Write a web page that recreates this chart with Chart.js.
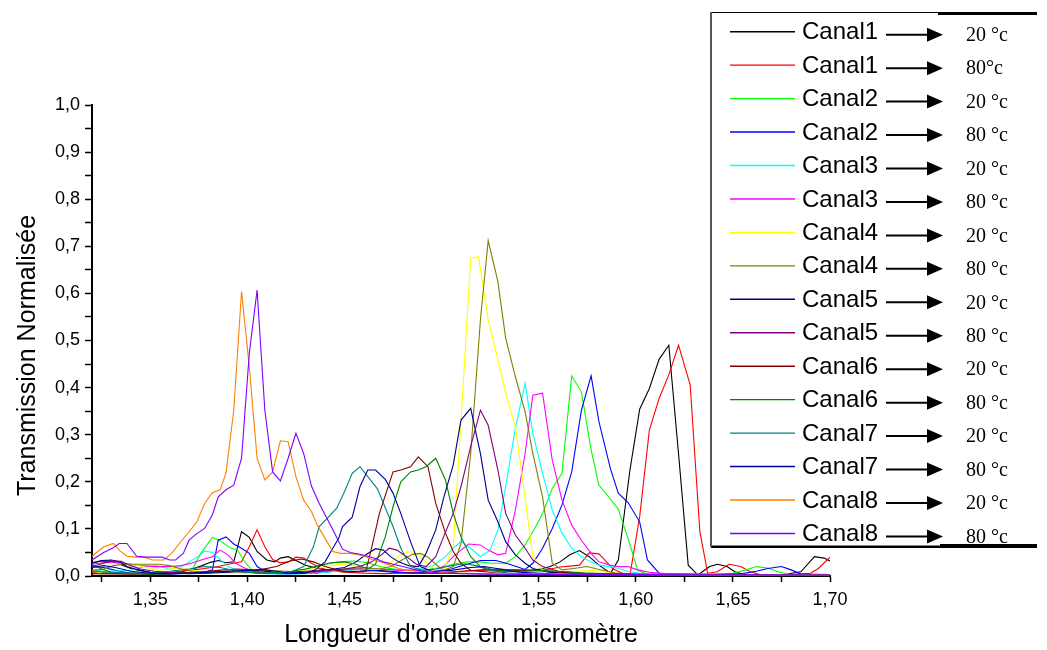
<!DOCTYPE html>
<html>
<head>
<meta charset="utf-8">
<title>Transmission normalisée des canaux</title>
<script src="https://cdn.jsdelivr.net/npm/chart.js@4.4.1/dist/chart.umd.min.js"></script>
<style>
  html, body { margin: 0; padding: 0; background: #fff; }
  #wrap { position: relative; width: 1047px; height: 650px; }
</style>
</head>
<body>
<div id="wrap"><canvas id="spectre" width="1047" height="650"></canvas></div>
<script>
// Normalised transmission spectra, [wavelength (µm), transmission] pairs
const canal1_20 = [[1.320,0.027],[1.325,0.032],[1.330,0.031],[1.335,0.024],[1.340,0.016],[1.345,0.011],[1.350,0.008],[1.356,0.006],[1.361,0.006],[1.366,0.009],[1.371,0.014],[1.376,0.021],[1.381,0.029],[1.385,0.033],[1.389,0.028],[1.393,0.030],[1.397,0.094],[1.401,0.082],[1.405,0.052],[1.410,0.034],[1.414,0.030],[1.417,0.038],[1.421,0.041],[1.425,0.033],[1.430,0.023],[1.436,0.016],[1.442,0.012],[1.450,0.009],[1.458,0.010],[1.466,0.012],[1.474,0.010],[1.482,0.007],[1.490,0.006],[1.498,0.006],[1.506,0.008],[1.514,0.011],[1.522,0.013],[1.530,0.014],[1.538,0.012],[1.546,0.012],[1.551,0.015],[1.556,0.020],[1.561,0.030],[1.566,0.045],[1.571,0.054],[1.576,0.041],[1.581,0.023],[1.587,0.006],[1.591,0.034],[1.597,0.225],[1.602,0.354],[1.607,0.398],[1.612,0.460],[1.617,0.490],[1.622,0.260],[1.627,0.023],[1.632,0.002],[1.638,0.020],[1.642,0.025],[1.647,0.020],[1.651,0.009],[1.656,0.003],[1.665,0.002],[1.675,0.002],[1.685,0.009],[1.692,0.041],[1.697,0.038],[1.700,0.032]];
const canal1_80 = [[1.320,0.008],[1.330,0.006],[1.340,0.005],[1.350,0.006],[1.360,0.008],[1.370,0.012],[1.378,0.016],[1.385,0.020],[1.389,0.024],[1.393,0.027],[1.397,0.030],[1.401,0.062],[1.405,0.098],[1.409,0.062],[1.413,0.035],[1.417,0.028],[1.421,0.030],[1.425,0.040],[1.429,0.038],[1.433,0.027],[1.437,0.018],[1.442,0.012],[1.450,0.008],[1.460,0.006],[1.470,0.005],[1.480,0.006],[1.490,0.007],[1.500,0.008],[1.510,0.010],[1.520,0.012],[1.530,0.014],[1.540,0.013],[1.550,0.012],[1.556,0.015],[1.561,0.019],[1.566,0.021],[1.571,0.023],[1.576,0.049],[1.581,0.047],[1.584,0.034],[1.588,0.016],[1.593,0.006],[1.597,0.002],[1.602,0.126],[1.607,0.310],[1.612,0.377],[1.617,0.427],[1.622,0.490],[1.628,0.406],[1.633,0.094],[1.637,0.006],[1.642,0.009],[1.648,0.025],[1.654,0.020],[1.659,0.009],[1.664,0.003],[1.675,0.002],[1.690,0.006],[1.694,0.016],[1.700,0.040]];
const canal2_20 = [[1.320,0.010],[1.330,0.008],[1.340,0.006],[1.350,0.005],[1.360,0.005],[1.366,0.006],[1.371,0.009],[1.376,0.048],[1.382,0.082],[1.386,0.075],[1.391,0.060],[1.395,0.055],[1.398,0.034],[1.403,0.009],[1.410,0.005],[1.420,0.008],[1.430,0.015],[1.440,0.025],[1.447,0.030],[1.455,0.032],[1.462,0.028],[1.470,0.018],[1.480,0.012],[1.490,0.012],[1.500,0.018],[1.507,0.026],[1.513,0.030],[1.520,0.030],[1.526,0.027],[1.533,0.027],[1.538,0.041],[1.543,0.066],[1.548,0.101],[1.552,0.133],[1.557,0.186],[1.562,0.218],[1.567,0.425],[1.572,0.391],[1.577,0.268],[1.581,0.193],[1.587,0.163],[1.591,0.142],[1.596,0.080],[1.601,0.012],[1.606,0.004],[1.620,0.004],[1.640,0.003],[1.650,0.006],[1.656,0.012],[1.662,0.020],[1.668,0.017],[1.674,0.008],[1.680,0.003],[1.700,0.003]];
const canal2_80 = [[1.320,0.020],[1.326,0.018],[1.332,0.012],[1.340,0.006],[1.350,0.004],[1.360,0.004],[1.370,0.006],[1.378,0.008],[1.382,0.013],[1.385,0.076],[1.389,0.083],[1.393,0.068],[1.397,0.059],[1.401,0.048],[1.405,0.020],[1.409,0.010],[1.415,0.005],[1.425,0.005],[1.435,0.006],[1.445,0.010],[1.455,0.014],[1.465,0.012],[1.475,0.008],[1.485,0.006],[1.495,0.008],[1.505,0.015],[1.513,0.025],[1.520,0.033],[1.528,0.033],[1.535,0.025],[1.540,0.018],[1.543,0.014],[1.547,0.027],[1.552,0.059],[1.557,0.101],[1.562,0.151],[1.567,0.221],[1.572,0.352],[1.577,0.425],[1.581,0.328],[1.587,0.227],[1.591,0.176],[1.596,0.156],[1.602,0.115],[1.606,0.034],[1.612,0.006],[1.620,0.003],[1.640,0.003],[1.655,0.005],[1.662,0.010],[1.668,0.016],[1.675,0.020],[1.680,0.013],[1.685,0.004],[1.700,0.003]];
const canal3_20 = [[1.320,0.012],[1.330,0.010],[1.340,0.012],[1.347,0.020],[1.353,0.022],[1.360,0.015],[1.366,0.020],[1.370,0.030],[1.374,0.040],[1.378,0.053],[1.382,0.050],[1.386,0.035],[1.390,0.020],[1.395,0.012],[1.400,0.008],[1.410,0.005],[1.420,0.004],[1.430,0.005],[1.440,0.008],[1.450,0.012],[1.460,0.015],[1.470,0.014],[1.480,0.012],[1.487,0.014],[1.492,0.018],[1.496,0.023],[1.502,0.041],[1.506,0.059],[1.510,0.073],[1.515,0.059],[1.520,0.041],[1.525,0.055],[1.529,0.098],[1.533,0.190],[1.538,0.314],[1.543,0.409],[1.547,0.303],[1.552,0.218],[1.557,0.140],[1.562,0.091],[1.567,0.059],[1.572,0.041],[1.577,0.030],[1.581,0.023],[1.587,0.020],[1.591,0.016],[1.596,0.010],[1.602,0.006],[1.610,0.004],[1.630,0.003],[1.700,0.002]];
const canal3_80 = [[1.320,0.025],[1.326,0.028],[1.332,0.030],[1.338,0.026],[1.345,0.022],[1.352,0.020],[1.360,0.020],[1.366,0.022],[1.372,0.028],[1.377,0.035],[1.382,0.041],[1.386,0.055],[1.390,0.045],[1.394,0.027],[1.398,0.018],[1.403,0.010],[1.410,0.006],[1.420,0.005],[1.430,0.006],[1.440,0.010],[1.450,0.014],[1.460,0.016],[1.470,0.014],[1.480,0.012],[1.490,0.012],[1.497,0.015],[1.501,0.020],[1.506,0.041],[1.510,0.055],[1.514,0.068],[1.520,0.066],[1.524,0.055],[1.529,0.045],[1.533,0.048],[1.538,0.140],[1.543,0.260],[1.547,0.384],[1.552,0.388],[1.557,0.246],[1.562,0.161],[1.567,0.108],[1.572,0.076],[1.577,0.048],[1.581,0.030],[1.587,0.023],[1.591,0.020],[1.596,0.020],[1.601,0.013],[1.607,0.008],[1.615,0.005],[1.640,0.004],[1.660,0.003],[1.700,0.002]];
const canal4_20 = [[1.320,0.005],[1.325,0.008],[1.330,0.027],[1.336,0.025],[1.342,0.024],[1.348,0.018],[1.354,0.012],[1.360,0.015],[1.366,0.018],[1.372,0.012],[1.380,0.008],[1.390,0.006],[1.400,0.005],[1.410,0.006],[1.420,0.008],[1.430,0.012],[1.440,0.020],[1.448,0.025],[1.455,0.022],[1.462,0.015],[1.468,0.014],[1.474,0.030],[1.479,0.045],[1.484,0.052],[1.488,0.045],[1.493,0.025],[1.497,0.015],[1.501,0.013],[1.506,0.060],[1.510,0.330],[1.515,0.675],[1.519,0.678],[1.524,0.544],[1.529,0.459],[1.533,0.388],[1.538,0.317],[1.542,0.197],[1.547,0.041],[1.552,0.013],[1.560,0.006],[1.570,0.010],[1.578,0.012],[1.585,0.008],[1.595,0.004],[1.620,0.003],[1.700,0.002]];
const canal4_80 = [[1.320,0.012],[1.326,0.015],[1.331,0.022],[1.336,0.025],[1.342,0.025],[1.348,0.025],[1.354,0.025],[1.360,0.022],[1.366,0.015],[1.372,0.010],[1.380,0.008],[1.390,0.008],[1.400,0.010],[1.410,0.012],[1.420,0.010],[1.430,0.008],[1.440,0.010],[1.450,0.015],[1.460,0.018],[1.468,0.015],[1.474,0.020],[1.480,0.035],[1.485,0.046],[1.489,0.048],[1.493,0.040],[1.497,0.025],[1.501,0.012],[1.506,0.020],[1.510,0.069],[1.515,0.260],[1.520,0.544],[1.524,0.712],[1.529,0.625],[1.533,0.505],[1.538,0.423],[1.543,0.349],[1.547,0.260],[1.552,0.168],[1.557,0.027],[1.562,0.013],[1.568,0.016],[1.575,0.020],[1.580,0.015],[1.590,0.006],[1.610,0.003],[1.700,0.002]];
const canal5_20 = [[1.320,0.028],[1.325,0.033],[1.330,0.034],[1.334,0.030],[1.338,0.020],[1.343,0.014],[1.350,0.008],[1.360,0.006],[1.370,0.005],[1.380,0.006],[1.390,0.008],[1.400,0.012],[1.410,0.010],[1.420,0.006],[1.430,0.008],[1.440,0.012],[1.450,0.018],[1.456,0.030],[1.461,0.045],[1.466,0.058],[1.470,0.055],[1.474,0.040],[1.478,0.030],[1.483,0.022],[1.488,0.020],[1.492,0.048],[1.497,0.098],[1.501,0.165],[1.506,0.236],[1.510,0.331],[1.515,0.356],[1.520,0.260],[1.524,0.161],[1.529,0.115],[1.533,0.073],[1.538,0.045],[1.543,0.027],[1.547,0.016],[1.555,0.008],[1.570,0.005],[1.600,0.003],[1.700,0.002]];
const canal5_80 = [[1.320,0.020],[1.325,0.026],[1.330,0.032],[1.335,0.031],[1.340,0.022],[1.345,0.015],[1.352,0.010],[1.360,0.008],[1.370,0.006],[1.380,0.008],[1.390,0.010],[1.400,0.008],[1.410,0.006],[1.420,0.008],[1.430,0.010],[1.440,0.012],[1.450,0.015],[1.458,0.020],[1.464,0.030],[1.469,0.045],[1.473,0.059],[1.477,0.055],[1.482,0.041],[1.487,0.025],[1.492,0.020],[1.497,0.041],[1.501,0.083],[1.506,0.133],[1.510,0.190],[1.515,0.275],[1.520,0.352],[1.524,0.320],[1.529,0.225],[1.533,0.133],[1.538,0.087],[1.543,0.059],[1.547,0.034],[1.552,0.020],[1.560,0.010],[1.575,0.005],[1.600,0.003],[1.700,0.002]];
const canal6_20 = [[1.320,0.005],[1.340,0.004],[1.360,0.005],[1.375,0.008],[1.385,0.012],[1.395,0.015],[1.405,0.012],[1.415,0.020],[1.422,0.032],[1.428,0.036],[1.434,0.030],[1.440,0.020],[1.447,0.012],[1.454,0.008],[1.461,0.010],[1.464,0.060],[1.468,0.133],[1.475,0.221],[1.479,0.225],[1.484,0.232],[1.488,0.253],[1.493,0.232],[1.497,0.154],[1.502,0.091],[1.506,0.052],[1.510,0.027],[1.515,0.012],[1.525,0.008],[1.540,0.010],[1.550,0.012],[1.560,0.008],[1.580,0.004],[1.700,0.002]];
const canal6_80 = [[1.320,0.024],[1.325,0.015],[1.330,0.008],[1.340,0.005],[1.350,0.004],[1.360,0.005],[1.370,0.006],[1.380,0.008],[1.390,0.010],[1.400,0.008],[1.410,0.006],[1.420,0.008],[1.430,0.015],[1.437,0.022],[1.443,0.028],[1.450,0.030],[1.456,0.025],[1.462,0.015],[1.466,0.025],[1.471,0.083],[1.475,0.147],[1.479,0.200],[1.484,0.221],[1.488,0.225],[1.492,0.232],[1.497,0.250],[1.502,0.204],[1.506,0.133],[1.510,0.083],[1.515,0.041],[1.520,0.020],[1.528,0.012],[1.540,0.010],[1.550,0.012],[1.560,0.010],[1.575,0.006],[1.600,0.003],[1.700,0.002]];
const canal7_20 = [[1.320,0.010],[1.330,0.008],[1.340,0.006],[1.350,0.006],[1.360,0.010],[1.370,0.015],[1.378,0.020],[1.386,0.018],[1.395,0.010],[1.405,0.006],[1.415,0.006],[1.422,0.008],[1.429,0.020],[1.434,0.062],[1.437,0.105],[1.441,0.122],[1.446,0.144],[1.450,0.179],[1.454,0.218],[1.458,0.232],[1.462,0.211],[1.467,0.185],[1.475,0.105],[1.479,0.059],[1.484,0.020],[1.490,0.012],[1.497,0.015],[1.505,0.022],[1.512,0.026],[1.518,0.022],[1.525,0.012],[1.535,0.006],[1.550,0.004],[1.580,0.003],[1.700,0.002]];
const canal7_80 = [[1.320,0.018],[1.326,0.022],[1.332,0.018],[1.340,0.010],[1.350,0.006],[1.360,0.005],[1.370,0.006],[1.380,0.008],[1.390,0.010],[1.400,0.012],[1.408,0.014],[1.415,0.010],[1.422,0.006],[1.430,0.006],[1.435,0.013],[1.440,0.030],[1.443,0.052],[1.447,0.080],[1.449,0.105],[1.454,0.125],[1.458,0.190],[1.462,0.225],[1.466,0.225],[1.471,0.205],[1.475,0.176],[1.479,0.133],[1.484,0.073],[1.489,0.020],[1.495,0.010],[1.505,0.012],[1.515,0.018],[1.522,0.020],[1.530,0.015],[1.540,0.008],[1.560,0.004],[1.600,0.003],[1.700,0.002]];
const canal8_20 = [[1.320,0.042],[1.326,0.062],[1.331,0.069],[1.334,0.055],[1.338,0.042],[1.343,0.040],[1.347,0.040],[1.351,0.034],[1.357,0.034],[1.361,0.048],[1.365,0.069],[1.370,0.094],[1.374,0.115],[1.378,0.154],[1.382,0.177],[1.386,0.183],[1.389,0.219],[1.393,0.352],[1.397,0.604],[1.401,0.444],[1.405,0.250],[1.409,0.204],[1.413,0.221],[1.417,0.287],[1.421,0.285],[1.425,0.211],[1.429,0.161],[1.433,0.137],[1.436,0.108],[1.441,0.073],[1.444,0.052],[1.448,0.048],[1.453,0.048],[1.457,0.045],[1.461,0.041],[1.465,0.034],[1.470,0.028],[1.474,0.022],[1.478,0.016],[1.482,0.012],[1.487,0.010],[1.495,0.008],[1.505,0.006],[1.520,0.005],[1.540,0.004],[1.560,0.004],[1.580,0.003],[1.600,0.003],[1.650,0.002],[1.700,0.002]];
const canal8_80 = [[1.320,0.034],[1.326,0.050],[1.331,0.060],[1.334,0.069],[1.338,0.069],[1.343,0.042],[1.347,0.040],[1.351,0.040],[1.356,0.040],[1.360,0.034],[1.363,0.034],[1.367,0.048],[1.370,0.076],[1.374,0.090],[1.378,0.101],[1.382,0.130],[1.385,0.168],[1.389,0.183],[1.393,0.193],[1.397,0.250],[1.401,0.473],[1.405,0.607],[1.409,0.352],[1.413,0.221],[1.417,0.202],[1.421,0.250],[1.425,0.303],[1.429,0.260],[1.433,0.191],[1.437,0.154],[1.441,0.122],[1.445,0.090],[1.449,0.057],[1.453,0.050],[1.458,0.046],[1.462,0.042],[1.466,0.037],[1.470,0.030],[1.475,0.025],[1.480,0.020],[1.485,0.015],[1.490,0.010],[1.500,0.006],[1.520,0.004],[1.560,0.003],[1.600,0.003],[1.700,0.002]];

const seriesData   = [canal1_20, canal1_80, canal2_20, canal2_80, canal3_20, canal3_80, canal4_20, canal4_80,
                      canal5_20, canal5_80, canal6_20, canal6_80, canal7_20, canal7_80, canal8_20, canal8_80];
const seriesNames  = ['Canal1','Canal1','Canal2','Canal2','Canal3','Canal3','Canal4','Canal4',
                      'Canal5','Canal5','Canal6','Canal6','Canal7','Canal7','Canal8','Canal8'];
const seriesTemps  = ['20 °c','80°c','20 °c','80 °c','20 °c','80 °c','20 °c','80 °c',
                      '20 °c','80 °c','20 °c','80 °c','20 °c','80 °c','20 °c','80 °c'];
const seriesColors = ['#000000','#ff0000','#00ff00','#0000ff','#00ffff','#ff00ff','#ffff00','#808000',
                      '#000080','#800080','#800000','#008000','#008080','#0000a0','#ff8000','#8000ff'];

const xTickValues = [1.325,1.35,1.375,1.40,1.425,1.45,1.475,1.50,1.525,1.55,1.575,1.60,1.625,1.65,1.675,1.70];
const xTickLabels = ['','1,35','','1,40','','1,45','','1,50','','1,55','','1,60','','1,65','','1,70'];
const yTickValues = [0,0.05,0.1,0.15,0.2,0.25,0.3,0.35,0.4,0.45,0.5,0.55,0.6,0.65,0.7,0.75,0.8,0.85,0.9,0.95,1.0];
const yTickLabels = ['0,0','','0,1','','0,2','','0,3','','0,4','','0,5','','0,6','','0,7','','0,8','','0,9','','1,0'];
const yAxisTitle = 'Transmission Normalisée';

Chart.defaults.font.family = '"Liberation Sans", Arial, sans-serif';
Chart.defaults.color = '#000';

// Vertical title of the transmission axis, set a little below the axis middle
const yTitle = {
  id: 'yTitle',
  afterDraw(chart) {
    const ctx = chart.ctx;
    const area = chart.chartArea;
    ctx.save();
    ctx.translate(28, (area.top + area.bottom) / 2 + 15);
    ctx.rotate(-Math.PI / 2);
    ctx.fillStyle = '#000';
    ctx.font = '25px "Liberation Sans", Arial, sans-serif';
    ctx.textAlign = 'center';
    ctx.textBaseline = 'middle';
    ctx.fillText(yAxisTitle, 0, 0);
    ctx.restore();
  }
};

// Boxed legend: line sample, channel name, arrow, temperature
const legendBox = {
  id: 'legendBox',
  afterDraw(chart) {
    const ctx = chart.ctx;
    const L = 711, T = 12, R = 1037, B = 547;
    ctx.save();
    ctx.fillStyle = '#fff';
    ctx.fillRect(L, T, 1047 - L, B - T);

    ctx.strokeStyle = '#000';
    ctx.lineWidth = 1;
    ctx.beginPath(); ctx.moveTo(L, T + 0.5); ctx.lineTo(R, T + 0.5); ctx.stroke();
    ctx.fillStyle = '#000';
    ctx.fillRect(938, T, R - 938, 3);
    ctx.fillRect(L, B - 1.5, R - L, 2.5);
    ctx.fillRect(940, B - 3, R - 940, 4);
    ctx.fillStyle = '#555';
    ctx.fillRect(L - 1, T, 2, B - T);

    chart.data.datasets.forEach((ds, i) => {
      const y = 31.7 + i * 33.45;
      ctx.strokeStyle = ds.borderColor;
      ctx.lineWidth = 1.4;
      ctx.beginPath(); ctx.moveTo(730, y); ctx.lineTo(795, y); ctx.stroke();

      ctx.fillStyle = '#000';
      ctx.textAlign = 'left';
      ctx.textBaseline = 'middle';
      ctx.font = '24px "Liberation Sans", Arial, sans-serif';
      ctx.fillText(ds.label, 802, y + 1);

      const ay = y + 3;
      ctx.strokeStyle = '#000';
      ctx.lineWidth = 2;
      ctx.beginPath(); ctx.moveTo(886, ay); ctx.lineTo(929, ay); ctx.stroke();
      ctx.beginPath();
      ctx.moveTo(927, ay - 7); ctx.lineTo(943, ay); ctx.lineTo(927, ay + 7); ctx.closePath();
      ctx.fill();

      ctx.font = '20px "Liberation Serif", "Times New Roman", serif';
      ctx.fillText(seriesTemps[i], 966, y + 4);
    });
    ctx.restore();
  }
};

const datasets = seriesData.map((pts, i) => ({
  label: seriesNames[i],
  data: pts.map(p => ({ x: p[0], y: p[1] })),
  borderColor: seriesColors[i],
  backgroundColor: seriesColors[i],
  borderWidth: 1.1,
  pointRadius: 0,
  tension: 0,
  fill: false,
  order: seriesData.length - 1 - i
}));

new Chart(document.getElementById('spectre'), {
  type: 'line',
  data: { datasets },
  options: {
    responsive: false,
    animation: false,
    events: [],
    layout: { padding: { top: 105, right: 217, left: 0, bottom: 0 } },
    plugins: { legend: { display: false }, tooltip: { enabled: false } },
    scales: {
      x: {
        type: 'linear',
        min: 1.32,
        max: 1.70,
        afterBuildTicks: s => { s.ticks = xTickValues.map(v => ({ value: v })); },
        afterFit: s => { s.height = 74; },
        ticks: {
          autoSkip: false, maxRotation: 0, padding: 7,
          font: { size: 18 },
          callback: (v, i) => xTickLabels[i]
        },
        grid: { drawOnChartArea: false, drawTicks: true, tickLength: 6, tickColor: '#000', tickWidth: 1.5 },
        border: { display: true, color: '#000', width: 2 },
        title: { display: true, text: "Longueur d'onde en micromètre", font: { size: 25 }, padding: { top: 0, bottom: 0 } }
      },
      y: {
        type: 'linear',
        min: 0,
        max: 1.0,
        afterBuildTicks: s => { s.ticks = yTickValues.map(v => ({ value: v })); },
        afterFit: s => { s.width = 92; },
        ticks: {
          autoSkip: false, padding: 5,
          font: { size: 18 },
          callback: (v, i) => yTickLabels[i]
        },
        grid: { drawOnChartArea: false, drawTicks: true, tickLength: 7, tickColor: '#000', tickWidth: 1.5 },
        border: { display: true, color: '#000', width: 2 }
      }
    }
  },
  plugins: [yTitle, legendBox]
});
</script>
</body>
</html>
